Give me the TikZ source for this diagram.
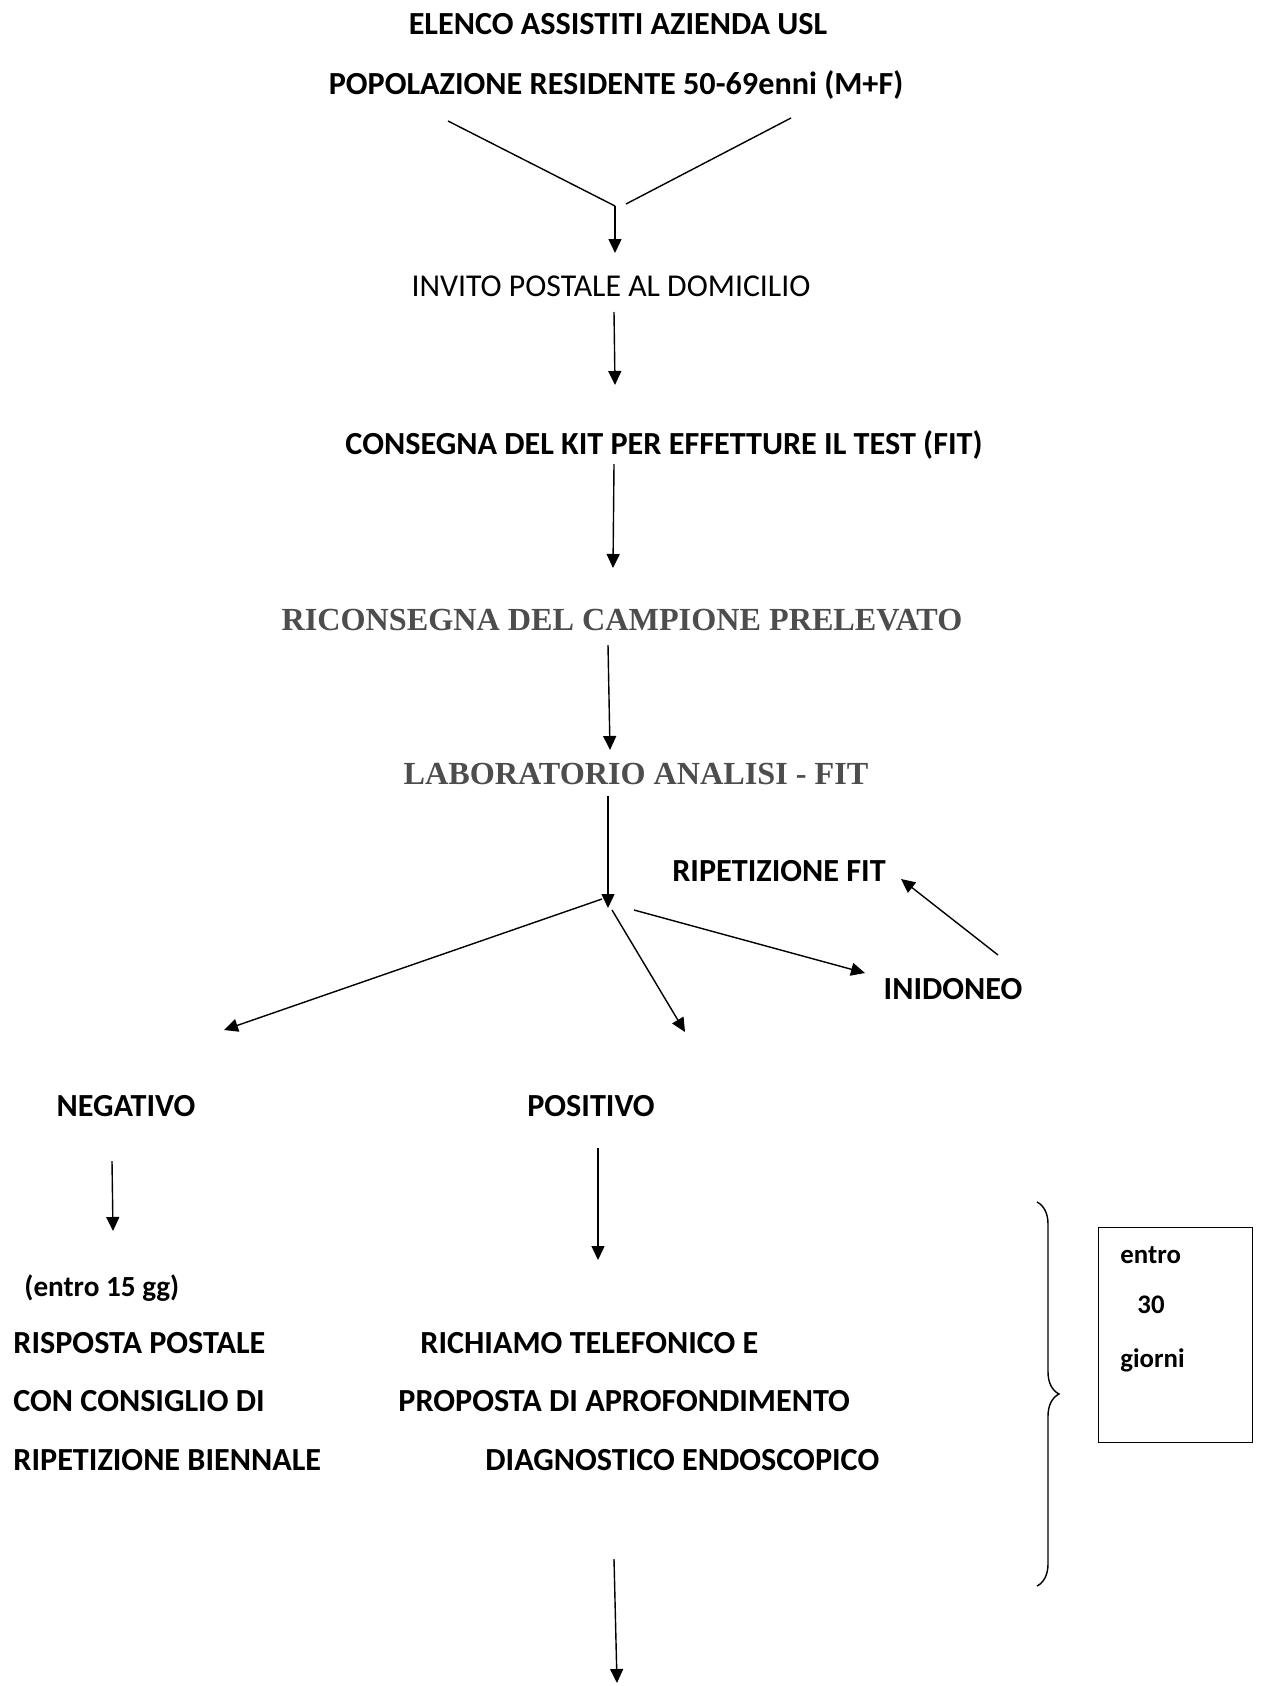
\documentclass[tikz,border=0pt]{standalone}
\usepackage{fontspec}
\setmainfont{Carlito}
\newfontfamily\timesfont{Liberation Serif}
\usetikzlibrary{arrows.meta,decorations.pathreplacing}
\definecolor{labgray}{HTML}{4D4D4D}

\begin{document}
\begin{tikzpicture}[
  x=0.5pt, y=-0.5pt,
  lbl/.style={inner sep=0pt, anchor=base, font=\fontsize{16.1}{19}\selectfont\bfseries},
  lblw/.style={lbl, anchor=base west},
  small/.style={inner sep=0pt, anchor=base west, font=\fontsize{13.4}{16}\selectfont\bfseries},
  thin/.style={inner sep=0pt, anchor=base, font=\fontsize{15.9}{19}\selectfont},
  serif/.style={inner sep=0pt, anchor=base, text=labgray, font=\fontsize{16.1}{19}\selectfont\timesfont\bfseries},
  line/.style={-{Triangle[length=7pt, width=6.5pt]}, line width=0.7pt},
  plain/.style={line width=0.7pt}
]
\useasboundingbox (0,0) rectangle (1260,1686);

% header
\node[lbl] (elenco) at (618,35) {ELENCO ASSISTITI AZIENDA USL};
\node[lbl] (popol) at (616,95) {POPOLAZIONE RESIDENTE 50-69enni (M+F)};

% main column
\node[thin] (invito) at (611,296) {INVITO POSTALE AL DOMICILIO};
\node[lbl] (kit) at (664,454) {CONSEGNA DEL KIT PER EFFETTURE IL TEST (FIT)};
\node[serif] (ricons) at (622,630) {RICONSEGNA DEL CAMPIONE PRELEVATO};
\node[serif] (lab) at (636,784) {LABORATORIO ANALISI - FIT};

% outcomes
\node[lbl] (ripfit) at (779,881) {RIPETIZIONE FIT};
\node[lbl] (inid) at (953,999) {INIDONEO};
\node[lbl] (neg) at (126,1116) {NEGATIVO};
\node[lbl] (pos) at (591,1116) {POSITIVO};

% negative branch
\node[small, font=\fontsize{14.6}{17}\selectfont\bfseries] (entro15) at (24,1296) {(entro 15 gg)};
\node[lblw] (risp) at (13,1353) {RISPOSTA POSTALE};
\node[lblw] (consig) at (13,1411) {CON CONSIGLIO DI};
\node[lblw] (bienn) at (13,1470) {RIPETIZIONE BIENNALE};

% positive branch
\node[lblw] (richiamo) at (420,1353) {RICHIAMO TELEFONICO E};
\node[lblw] (proposta) at (398,1411) {PROPOSTA DI APROFONDIMENTO};
\node[lblw] (diagn) at (485,1470) {DIAGNOSTICO ENDOSCOPICO};

% time box
\node[draw, line width=0.7pt, inner sep=0pt, minimum width=77pt, minimum height=107.5pt, anchor=north west] (tbox) at (1098,1227) {};
\node[small] (tentro) at (1120,1263) {entro};
\node[small] (t30) at (1137,1313) {30};
\node[small] (tgiorni) at (1120,1367) {giorni};

% connector ends
\coordinate (vl) at (448,121);
\coordinate (vr) at (791,118);
\coordinate (vjoin) at (615,206);
\coordinate (vjr) at (626,204);
\coordinate (v1) at (615,253);
\coordinate (a1) at (614,312);
\coordinate (a1e) at (615,385);
\coordinate (a2) at (614,464);
\coordinate (a2e) at (613,568);
\coordinate (a3) at (608,645);
\coordinate (a3e) at (610,750);
\coordinate (a4) at (608,796);
\coordinate (fork) at (608,908);
\coordinate (fn) at (602,899);
\coordinate (fne) at (224,1030);
\coordinate (fp) at (612,910);
\coordinate (fpe) at (685,1032);
\coordinate (fi) at (634,910);
\coordinate (fie) at (865,973);
\coordinate (ri) at (998,955);
\coordinate (rie) at (901,879);
\coordinate (n1) at (112,1161);
\coordinate (n1e) at (113,1231);
\coordinate (p1) at (598,1148);
\coordinate (p1e) at (598,1260);
\coordinate (d1) at (614,1559);
\coordinate (d1e) at (617,1683);
\coordinate (brtop) at (1037,1202);
\coordinate (brbot) at (1037,1586);

\draw[plain] (vl) -- (vjoin);
\draw[plain] (vr) -- (vjr);
\draw[line] (vjoin) -- (v1);
\draw[line] (a1) -- (a1e);
\draw[line] (a2) -- (a2e);
\draw[line] (a3) -- (a3e);
\draw[line] (a4) -- (fork);
\draw[line] (fn) -- (fne);
\draw[line] (fp) -- (fpe);
\draw[line] (fi) -- (fie);
\draw[line] (ri) -- (rie);
\draw[line] (n1) -- (n1e);
\draw[line] (p1) -- (p1e);
\draw[line] (d1) -- (d1e);
\draw[plain, decorate, decoration={brace, amplitude=11pt}] (brtop) -- (brbot);
\end{tikzpicture}
\end{document}
